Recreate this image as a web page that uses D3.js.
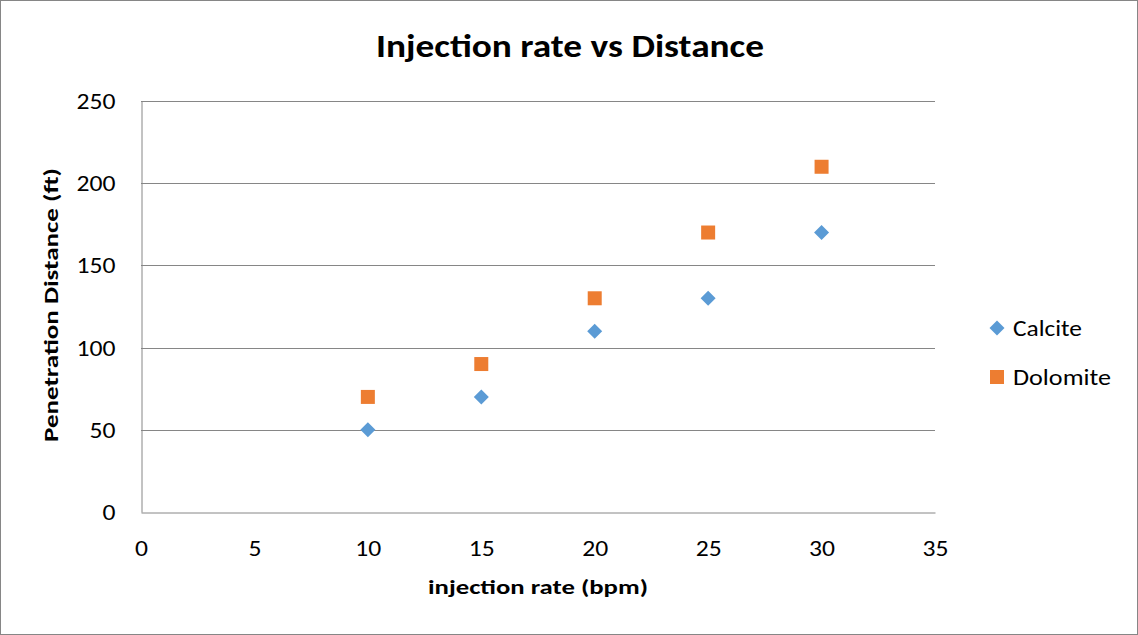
<!DOCTYPE html>
<html>
<head>
<meta charset="utf-8">
<script src="https://cdn.jsdelivr.net/npm/d3@7"></script>
<style>
  html, body { margin: 0; padding: 0; background: #fff; }
  svg { display: block; }
  text { font-family: Carlito, Lato, "Open Sans", sans-serif; fill: #000; }
</style>
</head>
<body>
<svg id="chart" width="1138" height="635"></svg>
<script>
// Injection rate (bpm) against penetration distance (ft) for two rock types
const injectionRates = [10, 15, 20, 25, 30];
const calcite = [50, 70, 110, 130, 170];
const dolomite = [70, 90, 130, 170, 210];
const xTicks = [0, 5, 10, 15, 20, 25, 30, 35];
const yTicks = [0, 50, 100, 150, 200, 250];
const seriesNames = ["Calcite", "Dolomite"];
const seriesColors = ["#5B9BD5", "#ED7D31"];

const W = 1138, H = 635;
const plot = { left: 141, right: 935, top: 101, bottom: 512 };
const digitWidth = 13;   // stretched glyph width used for numeric labels

const svg = d3.select("#chart");

// outer frame
svg.append("rect")
  .attr("x", 0.5).attr("y", 0.5)
  .attr("width", W - 1).attr("height", H - 1)
  .attr("fill", "#fff").attr("stroke", "#868686");

const x = d3.scaleLinear().domain([0, 35]).range([plot.left, plot.right]);
const y = d3.scaleLinear().domain([0, 250]).range([plot.bottom, plot.top]);

// horizontal gridlines
svg.append("g")
  .selectAll("line")
  .data(yTicks.filter(d => d > 0))
  .join("line")
  .attr("x1", plot.left).attr("x2", plot.right)
  .attr("y1", d => Math.round(y(d)) + 0.5)
  .attr("y2", d => Math.round(y(d)) + 0.5)
  .attr("stroke", "#868686").attr("stroke-width", 1);

// y axis
const yAxis = svg.append("g")
  .attr("transform", `translate(${plot.left + 0.5},0)`)
  .call(d3.axisLeft(y).tickValues(yTicks).tickSize(0).tickPadding(26).tickFormat(d3.format("d")));
yAxis.select(".domain").attr("stroke", "#868686");
yAxis.selectAll("text")
  .attr("font-size", 22)
  .attr("font-family", "Carlito, Lato, 'Open Sans', sans-serif")
  .attr("dy", "0.34em")
  .attr("textLength", d => String(d).length * digitWidth)
  .attr("lengthAdjust", "spacingAndGlyphs");

// x axis
const xAxis = svg.append("g")
  .attr("transform", `translate(0,${plot.bottom + 0.5})`)
  .call(d3.axisBottom(x).tickValues(xTicks).tickSize(0).tickPadding(0).tickFormat(d3.format("d")));
xAxis.select(".domain").attr("stroke", "#868686");
xAxis.selectAll("text")
  .attr("font-size", 22)
  .attr("font-family", "Carlito, Lato, 'Open Sans', sans-serif")
  .attr("y", 43).attr("dy", 0)
  .attr("textLength", d => String(d).length * digitWidth)
  .attr("lengthAdjust", "spacingAndGlyphs");

// titles
svg.append("text")
  .attr("x", 570).attr("y", 57)
  .attr("text-anchor", "middle")
  .attr("font-size", 33).attr("font-weight", "bold")
  .attr("textLength", 388).attr("lengthAdjust", "spacingAndGlyphs")
  .text("Injection rate vs Distance");

svg.append("text")
  .attr("x", 538).attr("y", 594)
  .attr("text-anchor", "middle")
  .attr("font-size", 21).attr("font-weight", "bold")
  .attr("textLength", 220).attr("lengthAdjust", "spacingAndGlyphs")
  .text("injection rate (bpm)");

svg.append("text")
  .attr("transform", "translate(58,305) rotate(-90)")
  .attr("text-anchor", "middle")
  .attr("font-size", 21).attr("font-weight", "bold")
  .attr("textLength", 274).attr("lengthAdjust", "spacingAndGlyphs")
  .text("Penetration Distance (ft)");

const series = [
  { name: seriesNames[0], values: calcite, color: seriesColors[0], sym: "diamond", labelWidth: 69 },
  { name: seriesNames[1], values: dolomite, color: seriesColors[1], sym: "square", labelWidth: 98 }
];

function drawMarker(g, s, cx, cy) {
  if (s.sym === "diamond") {
    g.append("path")
      .attr("d", `M${cx},${cy - 7.5}L${cx + 7.5},${cy}L${cx},${cy + 7.5}L${cx - 7.5},${cy}Z`)
      .attr("fill", s.color);
  } else {
    g.append("rect")
      .attr("x", cx - 7).attr("y", cy - 7)
      .attr("width", 14).attr("height", 14)
      .attr("fill", s.color);
  }
}

// markers
const marks = svg.append("g");
series.forEach(s => {
  injectionRates.forEach((r, i) => drawMarker(marks, s, x(r), y(s.values[i])));
});

// legend
const legend = svg.append("g");
series.forEach((s, i) => {
  const ly = 328 + i * 49;
  drawMarker(legend, s, 997, ly);
  legend.append("text")
    .attr("x", 1013).attr("y", ly)
    .attr("dy", "0.36em")
    .attr("font-size", 22)
    .attr("textLength", s.labelWidth).attr("lengthAdjust", "spacingAndGlyphs")
    .text(s.name);
});
</script>
</body>
</html>
